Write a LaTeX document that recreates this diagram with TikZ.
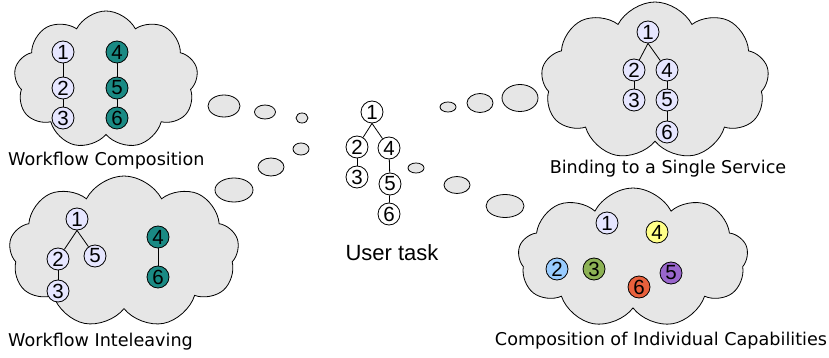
\documentclass[tikz,border=0pt]{standalone}
\usepackage{fontspec}
\setmainfont{Liberation Sans}
\newfontfamily\labfont{DejaVu Sans}
\usetikzlibrary{shapes.symbols,shapes.geometric}
\definecolor{cloudgray}{HTML}{E6E6E6}
\definecolor{lav}{HTML}{E6E6FF}
\definecolor{teal2}{HTML}{1A8A84}
\definecolor{cblue}{HTML}{99CCFF}
\definecolor{cgreen}{HTML}{8DB255}
\definecolor{cred}{HTML}{E8603C}
\definecolor{cpurple}{HTML}{9966CC}
\definecolor{cyellow}{HTML}{FFFF88}
\tikzset{
  cloudbox/.style={cloud, cloud puffs=9, cloud puff arc=125, cloud ignores aspect, draw=black, line width=0.8pt, fill=cloudgray, inner sep=0pt},
  bubble/.style={ellipse, draw=black, line width=0.8pt, fill=cloudgray, inner sep=0pt},
  task/.style={circle, draw=black, line width=0.8pt, minimum size=22pt, inner sep=0pt, font=\fontsize{20.5}{20.5}\selectfont},
  lv/.style={task, fill=lav},
  tl/.style={task, fill=teal2},
  wt/.style={task, fill=white},
  lab/.style={font=\labfont\fontsize{17.6}{17.6}\selectfont, inner sep=0pt},
  edge/.style={line width=0.8pt}
}
\begin{document}
\begin{tikzpicture}[x=1pt,y=-1pt]
\useasboundingbox (0,0) rectangle (829,358);
% clouds
\node[cloudbox, minimum width=184pt, minimum height=138pt] (c1) at (106,80) {};
\node[cloudbox, minimum width=230pt, minimum height=152pt] (c2) at (124,252) {};
\node[cloudbox, minimum width=228pt, minimum height=158pt] (c3) at (655,81) {};
\node[cloudbox, minimum width=230pt, minimum height=140pt] (c4) at (633,258) {};
% bubbles
\node[bubble, minimum width=32pt, minimum height=22pt] (b1) at (224,106) {};
\node[bubble, minimum width=21pt, minimum height=14pt] (b2) at (265,112) {};
\node[bubble, minimum width=12pt, minimum height=10pt] (b3) at (302,118) {};
\node[bubble, minimum width=16pt, minimum height=12pt] (b4) at (301,149) {};
\node[bubble, minimum width=26pt, minimum height=18pt] (b5) at (271,167) {};
\node[bubble, minimum width=38pt, minimum height=24pt] (b6) at (234,190) {};
\node[bubble, minimum width=16pt, minimum height=10pt] (b7) at (448,107) {};
\node[bubble, minimum width=26pt, minimum height=19pt] (b8) at (480,103) {};
\node[bubble, minimum width=36pt, minimum height=27pt] (b9) at (520,98) {};
\node[bubble, minimum width=16pt, minimum height=10pt] (b10) at (416,168) {};
\node[bubble, minimum width=26pt, minimum height=17pt] (b11) at (457,185) {};
\node[bubble, minimum width=38pt, minimum height=23pt] (b12) at (505,206) {};
% user task
\node[wt] (u1) at (372,112) {1};
\node[wt] (u2) at (357,147) {2};
\node[wt] (u4) at (389,148) {4};
\node[wt] (u3) at (357,177) {3};
\node[wt] (u5) at (390,184) {5};
\node[wt] (u6) at (389,214) {6};
\draw[edge] (u1.south) -- (u2);
\draw[edge] (u1.south) -- (u4);
\draw[edge] (u2) -- (u3);
\draw[edge] (u4) -- (u5);
\draw[edge] (u5) -- (u6);
\node[font=\fontsize{22}{22}\selectfont, inner sep=0pt] (ut) at (392,253) {User task};
% workflow composition
\node[lv] (a1) at (63,52) {1};
\node[lv] (a2) at (63,88) {2};
\node[lv] (a3) at (63,118) {3};
\node[tl] (a4) at (117,52) {4};
\node[tl] (a5) at (117,88) {5};
\node[tl] (a6) at (117,118) {6};
\draw[edge] (a1) -- (a2);
\draw[edge] (a2) -- (a3);
\draw[edge] (a4) -- (a5);
\draw[edge] (a5) -- (a6);
\node[lab, anchor=west] (la) at (8,161) {Workflow Composition};
% workflow interleaving
\node[lv] (i1) at (77,219) {1};
\node[lv] (i2) at (58,259) {2};
\node[lv] (i5) at (95,256) {5};
\node[lv] (i3) at (58,291) {3};
\node[tl] (i4) at (158,237) {4};
\node[tl] (i6) at (158,277) {6};
\draw[edge] (i1.south) -- (i2);
\draw[edge] (i1.south) -- (i5);
\draw[edge] (i2) -- (i3);
\draw[edge] (i4) -- (i6);
\node[lab, anchor=west] (li) at (8,342) {Workflow Inteleaving};
% binding to a single service
\node[lv] (s1) at (648,32) {1};
\node[lv] (s2) at (634,70) {2};
\node[lv] (s4) at (667,70) {4};
\node[lv] (s3) at (634,100) {3};
\node[lv] (s5) at (667,100) {5};
\node[lv] (s6) at (667,132) {6};
\draw[edge] (s1.south) -- (s2);
\draw[edge] (s1.south) -- (s4);
\draw[edge] (s2) -- (s3);
\draw[edge] (s4) -- (s5);
\draw[edge] (s5) -- (s6);
\node[lab] (ls) at (668,169) {Binding to a Single Service};
% composition of individual capabilities
\node[lv] (k1) at (607,223) {1};
\node[task, fill=cyellow] (k4) at (657,232) {4};
\node[task, fill=cblue] (k2) at (557,269) {2};
\node[task, fill=cgreen] (k3) at (594,269) {3};
\node[task, fill=cred] (k6) at (639,287) {6};
\node[task, fill=cpurple] (k5) at (671,273) {5};
\node[lab] (lk) at (661,341) {Composition of Individual Capabilities};
\end{tikzpicture}
\end{document}
